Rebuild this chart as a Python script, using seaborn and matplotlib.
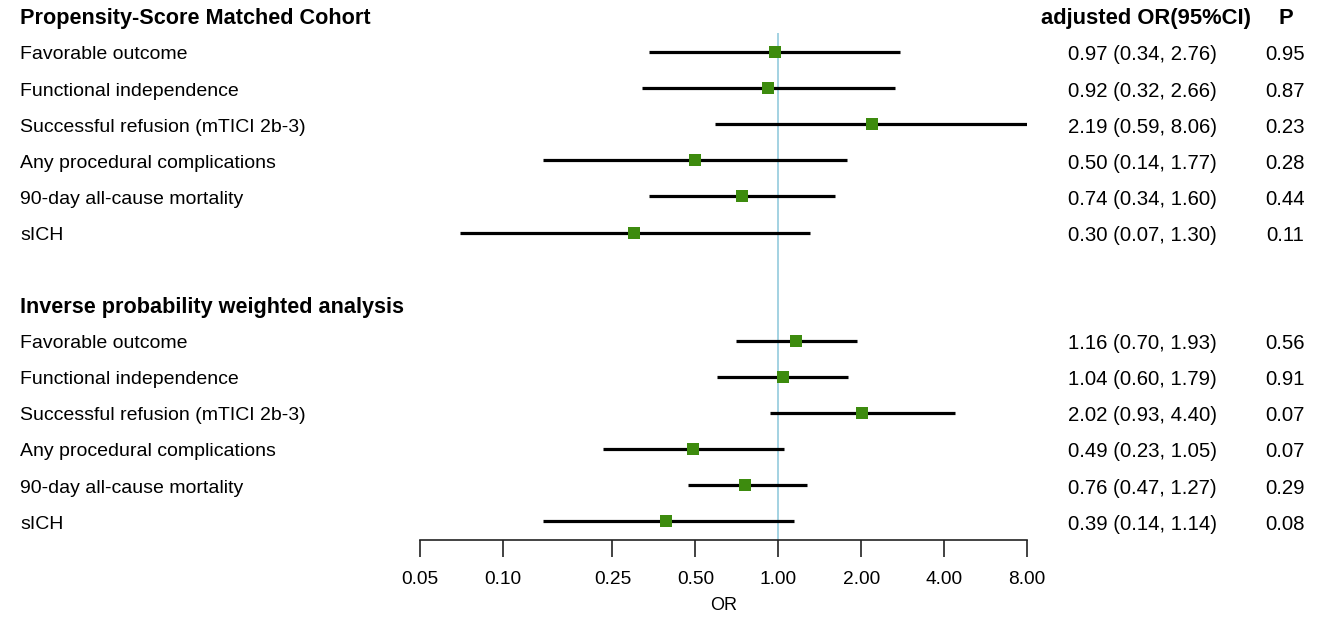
import numpy as np
import pandas as pd
import matplotlib
matplotlib.use("Agg")
import matplotlib.pyplot as plt
import seaborn as sns

# data
groups = ["Propensity-Score Matched Cohort", "Inverse probability weighted analysis"]
outcomes = ["Favorable outcome", "Functional independence", "Successful refusion (mTICI 2b-3)",
            "Any procedural complications", "90-day all-cause mortality", "sICH"]
psm_or = [0.97, 0.92, 2.19, 0.50, 0.74, 0.30]
psm_lo = [0.34, 0.32, 0.59, 0.14, 0.34, 0.07]
psm_hi = [2.76, 2.66, 8.06, 1.77, 1.60, 1.30]
psm_p = ["0.95", "0.87", "0.23", "0.28", "0.44", "0.11"]
ipw_or = [1.16, 1.04, 2.02, 0.49, 0.76, 0.39]
ipw_lo = [0.70, 0.60, 0.93, 0.23, 0.47, 0.14]
ipw_hi = [1.93, 1.79, 4.40, 1.05, 1.27, 1.14]
ipw_p = ["0.56", "0.91", "0.07", "0.07", "0.29", "0.08"]
xticks = [0.05, 0.10, 0.25, 0.50, 1.00, 2.00, 4.00, 8.00]

# build a long table, one row per outcome, with a row index for the y axis
rows = []
for gi, (ors, los, his, ps) in enumerate([(psm_or, psm_lo, psm_hi, psm_p),
                                          (ipw_or, ipw_lo, ipw_hi, ipw_p)]):
    for i, name in enumerate(outcomes):
        rows.append({"group": groups[gi], "outcome": name, "OR": ors[i],
                     "lo": los[i], "hi": his[i], "p": ps[i], "row": gi * 8 + i + 1})
df = pd.DataFrame(rows)

sns.set_theme(style="white")
plt.rcParams["font.family"] = ["Liberation Sans", "DejaVu Sans"]
plt.rcParams["text.color"] = "black"
plt.rcParams["axes.labelcolor"] = "black"
plt.rcParams["xtick.color"] = "black"

W, H = 1325, 617
fig = plt.figure(figsize=(W / 100, H / 100), dpi=100)
# axes: x from 0.05 (px 420) to 8 (px 1027), bottom spine at px 540
ax = fig.add_axes([420 / W, (H - 540) / H, (1027 - 420) / W, 540 / H])
ax.set_xscale("log")
ax.set_xlim(0.05, 8)
ax.set_ylim(14.52, -0.443)

# reference line at OR = 1
ax.vlines(1.0, 0.47, 14.52, color="#9ccfdf", lw=1.3, zorder=1)
# confidence intervals
ax.hlines(df["row"], df["lo"], df["hi"], color="black", lw=2.3, zorder=2)
sns.scatterplot(data=df, x="OR", y="row", marker="s", s=80, color="#3d8b0e",
                edgecolor="#3d8b0e", linewidth=0, zorder=3, ax=ax, legend=False)

for s in ["top", "right", "left"]:
    ax.spines[s].set_visible(False)
ax.spines["bottom"].set_color("#222222")
ax.spines["bottom"].set_linewidth(1.2)
ax.set_xticks(xticks)
ax.set_xticklabels([f"{t:.2f}" for t in xticks])
ax.xaxis.set_minor_locator(matplotlib.ticker.NullLocator())
ax.tick_params(axis="x", direction="out", length=12, width=1.2, color="#222222",
               labelsize=13.8, pad=10, bottom=True)
ax.set_yticks([])
ax.set_xlabel("OR", fontsize=13, labelpad=7)
ax.set_ylabel("")

# text columns: x in figure pixels, y in data rows (nudged down like the reference)
tr_left = matplotlib.transforms.blended_transform_factory(fig.transFigure, ax.transData)
dy = 0.08
for gi, g in enumerate(groups):
    ax.text(20 / W, gi * 8 + 0.08, g, transform=tr_left, fontsize=15.6, fontweight="bold",
            va="center", ha="left")
ax.text(1146 / W, 0.08, "adjusted OR(95%CI)", transform=tr_left, fontsize=15.8,
        fontweight="bold", va="center", ha="center")
ax.text(1286 / W, 0.08, "P", transform=tr_left, fontsize=15.8, fontweight="bold",
        va="center", ha="center")
for _, r in df.iterrows():
    ax.text(20 / W, r["row"] + dy, r["outcome"], transform=tr_left, fontsize=14,
            va="center", ha="left")
    ax.text(1142 / W, r["row"] + dy, f"{r['OR']:.2f} ({r['lo']:.2f}, {r['hi']:.2f})",
            transform=tr_left, fontsize=14.7, va="center", ha="center")
    ax.text(1285 / W, r["row"] + dy, r["p"], transform=tr_left, fontsize=14.7,
            va="center", ha="center")

fig.savefig("out.png", dpi=100, facecolor="white")
